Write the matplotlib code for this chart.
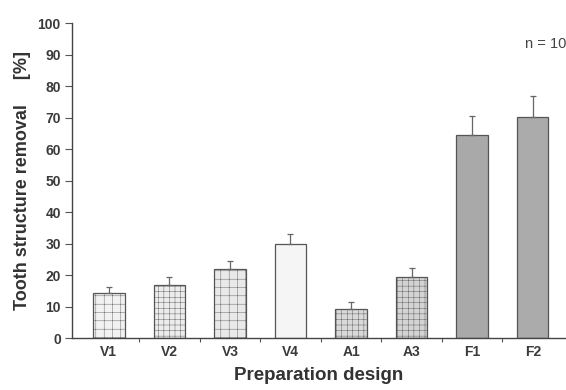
import matplotlib
matplotlib.use('Agg')
import matplotlib.pyplot as plt

plt.rcParams['font.family'] = ['Liberation Sans', 'DejaVu Sans']

# values
designs = ['V1', 'V2', 'V3', 'V4', 'A1', 'A3', 'F1', 'F2']
removal = [14.2, 16.8, 21.9, 30.0, 9.2, 19.3, 64.6, 70.3]
removal_sd = [2.0, 2.5, 2.5, 3.0, 2.3, 3.0, 6.0, 6.5]
bar_colors = ['#f2f2f2', '#ececec', '#e9e9e9', '#f5f5f5',
              '#d9d9d9', '#d3d3d3', '#a9a9a9', '#ababab']
bar_hatches = ['++', '+++', '++', '', '+++', '+++', '', '']

plt.rcParams['hatch.color'] = '#dadada'
plt.rcParams['hatch.linewidth'] = 0.3

fig = plt.figure(figsize=(5.66, 3.90), dpi=100)
ax = fig.add_axes([0.127, 0.133, 0.873, 0.808])

x = range(len(designs))
bars = ax.bar(x, removal, width=0.52, color=bar_colors, edgecolor='#555555',
              linewidth=0.9, zorder=2)
for b, h in zip(bars, bar_hatches):
    b.set_hatch(h)
ax.errorbar(x, removal, yerr=[[0] * len(designs), removal_sd], fmt='none',
            ecolor='#666666', elinewidth=0.9, capsize=2, capthick=0.9, zorder=3)

ax.set_xlim(-0.61, 7.55)
ax.set_ylim(0, 100)
ax.set_yticks(range(0, 101, 10))

# category labels centred, small ticks between categories
ax.set_xticks([i + 0.5 for i in range(len(designs) - 1)])
ax.set_xticklabels([])
ax.set_xticks(list(x), minor=True)
ax.set_xticklabels(designs, minor=True)
ax.tick_params(axis='x', which='minor', length=0, pad=5)
ax.tick_params(axis='x', which='major', length=3, width=0.8, color='#555555')
ax.tick_params(axis='y', length=5, width=0.8, color='#555555', pad=3)
for lab in ax.get_xticklabels(minor=True) + ax.get_yticklabels():
    lab.set_fontsize(10)
    lab.set_fontweight('bold')
    lab.set_color('#3a3a3a')

for s in ['top', 'right']:
    ax.spines[s].set_visible(False)
for s in ['left', 'bottom']:
    ax.spines[s].set_color('#444444')
    ax.spines[s].set_linewidth(1.0)

ax.set_xlabel('Preparation design', fontsize=13.5, fontweight='bold',
              color='#333333', labelpad=6)
ax.set_ylabel('Tooth structure removal     [%]', fontsize=13,
              fontweight='bold', color='#333333', labelpad=5)

fig.text(0.928, 0.878, 'n = 10', fontsize=10.5, color='#444444')

fig.savefig('out.png', dpi=100)
